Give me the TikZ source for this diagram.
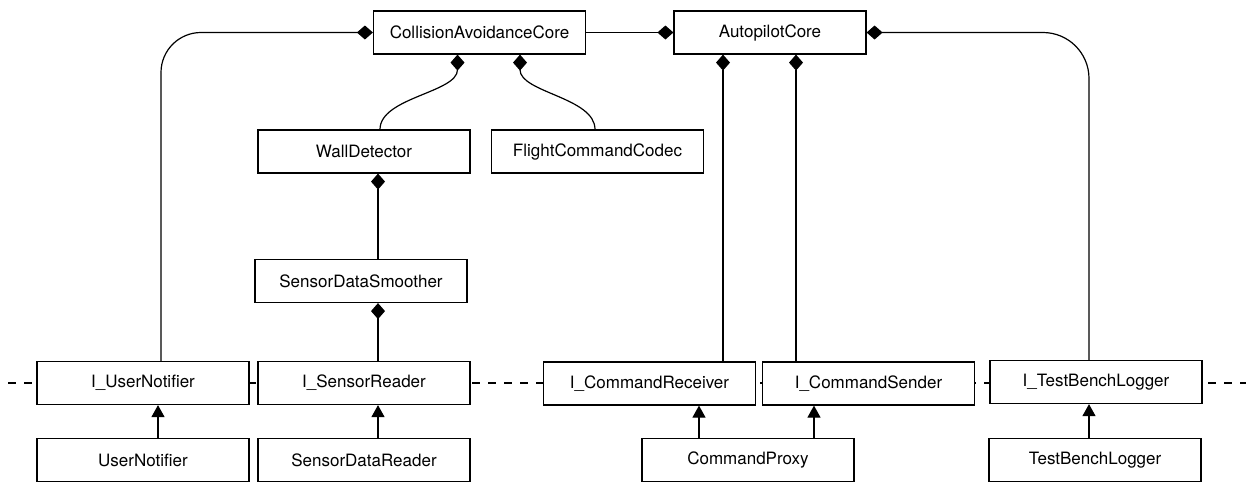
\documentclass[tikz,border=0pt]{standalone}
\usepackage{fontspec}
\setmainfont{TeX Gyre Heros}
\usetikzlibrary{arrows.meta,calc}
\tikzset{
  cls/.style={draw, fill=white, line width=1.2pt, minimum width=212pt, minimum height=43pt,
              inner sep=0pt, font=\fontsize{17}{20}\selectfont},
  comp/.style={line width=1.2pt, -{Diamond[length=16pt,width=14pt]}},
  inh/.style={line width=1.2pt, -{Triangle[length=12pt,width=13pt]}},
  layer/.style={line width=1.2pt, dash pattern=on 8pt off 8pt},
}
\begin{document}
\begin{tikzpicture}[x=1pt,y=-1pt]
\useasboundingbox (0,0) rectangle (1251,483);

% layer line running behind the interface row
\coordinate (lstart) at (8,383);
\coordinate (lend) at (1246,383);
\draw[layer] (lstart) -- (lend);

% classes
\node[cls] (cac) at (479.5,32.5) {CollisionAvoidanceCore};
\node[cls, minimum width=192pt] (ap) at (770,32.5) {AutopilotCore};
\node[cls] (wd) at (364,151.5) {WallDetector};
\node[cls] (fcc) at (597.5,151.5) {FlightCommandCodec};
\node[cls] (sds) at (361,281) {SensorDataSmoother};
\node[cls] (iun) at (143,383) {I\_UserNotifier};
\node[cls] (isr) at (364,383) {I\_SensorReader};
\node[cls] (icr) at (649.5,383.5) {I\_CommandReceiver};
\node[cls] (ics) at (868.5,383.5) {I\_CommandSender};
\node[cls] (itbl) at (1096,382) {I\_TestBenchLogger};
\node[cls] (un) at (143,460) {UserNotifier};
\node[cls] (sdr) at (364,460) {SensorDataReader};
\node[cls] (cp) at (748,460) {CommandProxy};
\node[cls] (tbl) at (1095,460) {TestBenchLogger};

% composition
\draw[comp, rounded corners=40pt] ($(iun.north)+(18,0)$) |- (cac.west);
\draw[comp] (cac.east) -- (ap.west);
\draw[comp, rounded corners=46pt] ($(itbl.north)+(-7,0)$) |- (ap.east);
\draw[comp] ($(wd.north)+(16,0)$) .. controls +(0,-32) and +(0,38) .. ($(cac.south)+(-22,0)$);
\draw[comp] ($(fcc.north)+(-2.5,0)$) .. controls +(0,-32) and +(0,38) .. ($(cac.south)+(40.5,0)$);
\draw[comp] ($(icr.north)+(73.5,0)$) -- ($(ap.south)+(-47,0)$);
\draw[comp] ($(ics.north)+(-72.5,0)$) -- ($(ap.south)+(26,0)$);
\draw[comp] ($(sds.north)+(17,0)$) -- ($(wd.south)+(14,0)$);
\draw[comp] ($(isr.north)+(14,0)$) -- ($(sds.south)+(17,0)$);

% realisation of interfaces
\draw[inh] ($(un.north)+(15,0)$) -- ($(iun.south)+(15,0)$);
\draw[inh] ($(sdr.north)+(14,0)$) -- ($(isr.south)+(14,0)$);
\draw[inh] ($(cp.north)+(-49,0)$) -- ($(cp.north |- icr.south)+(-49,0)$);
\draw[inh] ($(cp.north)+(66,0)$) -- ($(cp.north |- ics.south)+(66,0)$);
\draw[inh] ($(tbl.north)+(-6,0)$) -- ($(tbl.north |- itbl.south)+(-6,0)$);
\end{tikzpicture}
\end{document}
